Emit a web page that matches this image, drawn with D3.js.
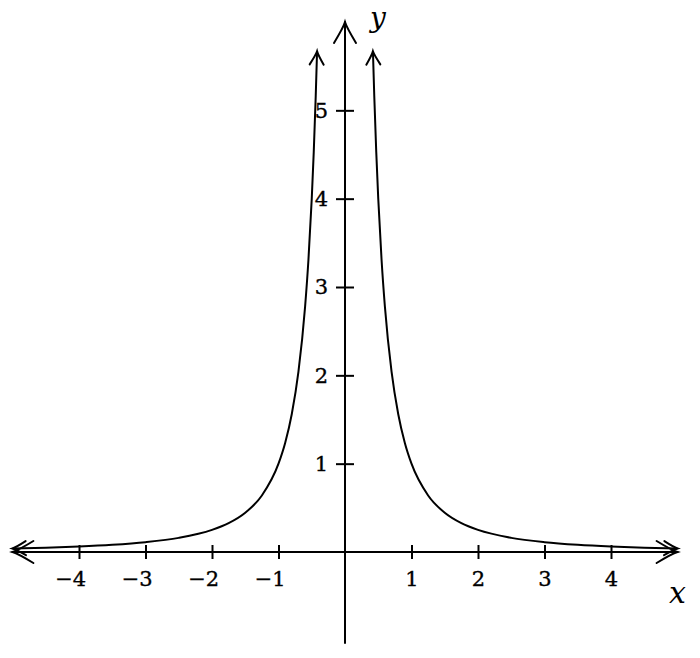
<!DOCTYPE html>
<html>
<head>
<style>
body { margin: 0; background: #fff; }
svg text { font-family: "DejaVu Serif", "Liberation Serif", serif; fill: #000; }
.curve { fill: none; stroke: #000; stroke-width: 2px; }
.arrow { fill: none; stroke: #000; stroke-width: 2px; stroke-linecap: round; }
</style>
</head>
<body>
<svg></svg>
<script src="https://cdn.jsdelivr.net/npm/d3@7/dist/d3.min.js"></script>
<script>
var width = 700, height = 658;

// data: y = 1/x^2, sampled on each branch
var xTicks = [-4, -3, -2, -1, 1, 2, 3, 4];
var yTicks = [1, 2, 3, 4, 5];
var leftX = [-5, -4.5, -4, -3.5, -3, -2.5, -2, -1.75, -1.5, -1.25, -1, -0.9, -0.8, -0.7, -0.6, -0.55, -0.5, -0.47, -0.44, -0.42];
var rightX = [0.42, 0.44, 0.47, 0.5, 0.55, 0.6, 0.7, 0.8, 0.9, 1, 1.25, 1.5, 1.75, 2, 2.5, 3, 3.5, 4, 4.5, 5];
var leftY = [0.04, 0.0494, 0.0625, 0.0816, 0.1111, 0.16, 0.25, 0.3265, 0.4444, 0.64, 1, 1.2346, 1.5625, 2.0408, 2.7778, 3.3058, 4, 4.5269, 5.1653, 5.6689];
var rightY = leftY.slice().reverse();

var x = d3.scaleLinear().domain([-5, 5]).range([12.5, 677.5]);
var y = d3.scaleLinear().domain([0, 6]).range([552, 22]);

var svg = d3.select("svg").attr("width", width).attr("height", height);

// x axis (digit centred under tick, minus hangs to the left)
var xAxis = svg.append("g")
    .attr("transform", "translate(0," + y(0) + ")")
    .call(d3.axisBottom(x).tickValues(xTicks).tickSize(6).tickPadding(9)
      .tickFormat(function(d) { return d < 0 ? "\u2212" + (-d) : d; }));
xAxis.select(".domain").remove();
xAxis.selectAll(".tick line").attr("y1", -7).attr("y2", 7).attr("stroke", "#000").attr("stroke-width", 2);
xAxis.selectAll(".tick text").style("font-size", "21px").attr("dy", "0.9em")
    .attr("text-anchor", "end").attr("dx", "0.32em")
    .attr("stroke", "#000").attr("stroke-width", 0.35);

// y axis
var yAxis = svg.append("g")
    .attr("transform", "translate(" + x(0) + ",0)")
    .call(d3.axisLeft(y).tickValues(yTicks).tickSize(6).tickPadding(11).tickFormat(d3.format("d")));
yAxis.select(".domain").remove();
yAxis.selectAll(".tick line").attr("x1", -9).attr("x2", 9).attr("stroke", "#000").attr("stroke-width", 2);
yAxis.selectAll(".tick text").style("font-size", "21px").attr("stroke", "#000").attr("stroke-width", 0.35);

// axis lines
svg.append("line").attr("class", "arrow")
    .attr("x1", x(-5)).attr("x2", x(5)).attr("y1", y(0)).attr("y2", y(0));
svg.append("line").attr("class", "arrow")
    .attr("x1", x(0)).attr("x2", x(0)).attr("y1", y(-1.03)).attr("y2", y(6));

function arrowHead(px, py, angle, s) {
  // tip at (0,0), pointing along +x
  var p = "M" + (-1.9 * s) + "," + (-1 * s) + " Q" + (-0.5 * s) + "," + (-0.15 * s) + " 0,0" +
          " Q" + (-0.5 * s) + "," + (0.15 * s) + " " + (-1.9 * s) + "," + (1 * s);
  svg.append("path").attr("class", "arrow").attr("d", p)
      .attr("transform", "translate(" + px + "," + py + ") rotate(" + angle + ")");
}

arrowHead(x(5), y(0), 0, 11);
arrowHead(x(-5), y(0), 180, 11);
arrowHead(x(0), y(6), -90, 11);

// curves
var line = d3.line().x(function(d) { return x(d[0]); }).y(function(d) { return y(d[1]); }).curve(d3.curveMonotoneX);
var left = leftX.map(function(v, i) { return [v, leftY[i]]; });
var right = rightX.map(function(v, i) { return [v, rightY[i]]; });
svg.append("path").attr("class", "curve").attr("d", line(left));
svg.append("path").attr("class", "curve").attr("d", line(right));

function endArrow(pts, atEnd) {
  var a = atEnd ? pts[pts.length - 1] : pts[0];
  var b = atEnd ? pts[pts.length - 2] : pts[1];
  var ang = Math.atan2(y(a[1]) - y(b[1]), x(a[0]) - x(b[0])) * 180 / Math.PI;
  arrowHead(x(a[0]), y(a[1]), ang, 7);
}
endArrow(left, false);
endArrow(left, true);
endArrow(right, false);
endArrow(right, true);

// axis labels
svg.append("text").attr("x", 370).attr("y", 27).style("font-size", "28px").attr("font-style", "italic").text("y");
svg.append("text").attr("x", 669).attr("y", 603).style("font-size", "30px").attr("font-style", "italic").text("x");
</script>
</body>
</html>
